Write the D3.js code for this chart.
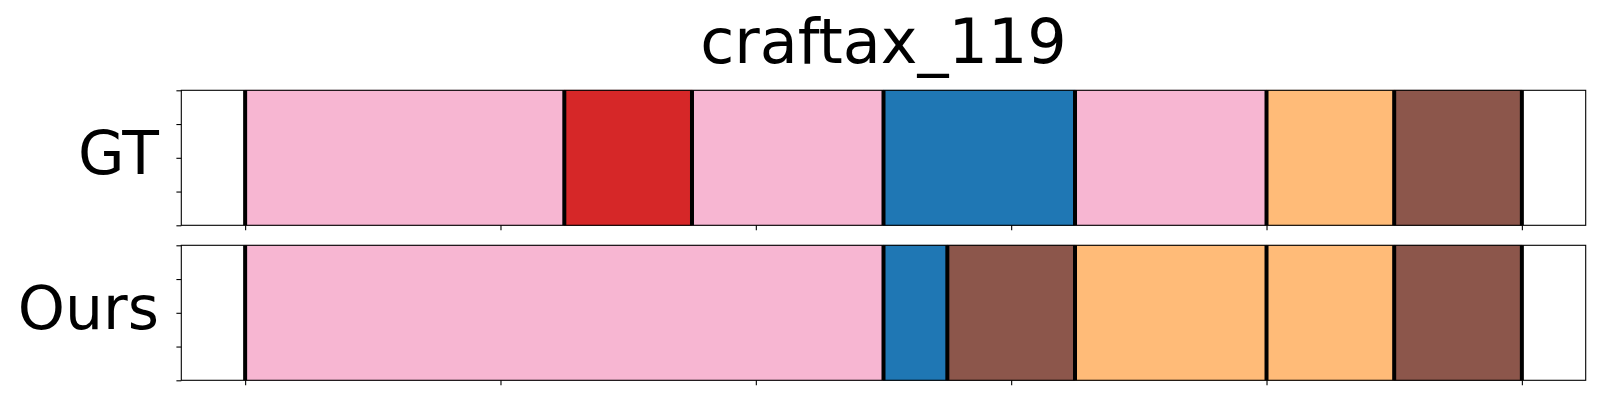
<!DOCTYPE html>
<html><head><meta charset="utf-8">
<script src="https://cdn.jsdelivr.net/npm/d3@7"></script>
<style>body{margin:0;background:#fff}svg{display:block}</style>
</head><body>
<script>
const title = "craftax_119";
const rowLabels = ["GT", "Ours"];
// segments: [start, end, color]
const gtStarts = [0, 0.25, 0.35, 0.5, 0.65, 0.8, 0.9];
const gtEnds   = [0.25, 0.35, 0.5, 0.65, 0.8, 0.9, 1.0];
const gtColors = ["#f7b6d2", "#d62728", "#f7b6d2", "#1f77b4", "#f7b6d2", "#ffbb78", "#8c564b"];
const oursStarts = [0, 0.5, 0.55, 0.65, 0.8, 0.9];
const oursEnds   = [0.5, 0.55, 0.65, 0.8, 0.9, 1.0];
const oursColors = ["#f7b6d2", "#1f77b4", "#8c564b", "#ffbb78", "#ffbb78", "#8c564b"];
const xTicks = [0, 0.2, 0.4, 0.6, 0.8, 1.0];
const yTicks = [0, 0.25, 0.5, 0.75, 1.0];

const W = 1600, H = 400;
const svg = d3.select("body").append("svg").attr("width", W).attr("height", H);
const x = d3.scaleLinear().domain([-0.05, 1.05]).range([181.3, 1585.7]);
const panels = [
  {label: rowLabels[0], starts: gtStarts, ends: gtEnds, colors: gtColors, top: 90.3, bottom: 225.3},
  {label: rowLabels[1], starts: oursStarts, ends: oursEnds, colors: oursColors, top: 245.3, bottom: 380.3}
];
const font = "DejaVu Sans, sans-serif";

svg.append("text").attr("x", 883.5).attr("y", 63).attr("text-anchor", "middle")
  .attr("font-family", font).attr("font-size", 62).text(title);

panels.forEach(p => {
  const y = d3.scaleLinear().domain([0, 1]).range([p.bottom, p.top]);
  const g = svg.append("g");
  const segs = p.starts.map((s, i) => ({s, e: p.ends[i], c: p.colors[i]}));
  g.selectAll("rect.seg").data(segs).enter().append("rect")
    .attr("x", d => x(d.s)).attr("width", d => x(d.e) - x(d.s))
    .attr("y", y(1)).attr("height", y(0) - y(1))
    .attr("fill", d => d.c)
    .attr("stroke", d => d3.color(d.c).darker(0.3)).attr("stroke-width", 0.8);
  // boundary lines
  const bounds = Array.from(new Set(p.starts.concat(p.ends)));
  g.selectAll("line.b").data(bounds).enter().append("line")
    .attr("x1", d => x(d)).attr("x2", d => x(d))
    .attr("y1", y(1)).attr("y2", y(0))
    .attr("stroke", "#000").attr("stroke-width", 4);
  // axes
  const xa = d3.axisBottom(x).tickValues(xTicks).tickSize(4.9).tickFormat("");
  const ya = d3.axisLeft(y).tickValues(yTicks).tickSize(4.9).tickFormat("");
  const gx = g.append("g").attr("transform", `translate(0,${p.bottom})`).call(xa);
  const gy = g.append("g").attr("transform", `translate(${x.range()[0]},0)`).call(ya);
  [gx, gy].forEach(a => {
    a.select(".domain").remove();
    a.selectAll("line").attr("stroke", "#000").attr("stroke-width", 1.1);
  });
  g.append("rect").attr("x", x.range()[0]).attr("y", p.top)
    .attr("width", x.range()[1] - x.range()[0]).attr("height", p.bottom - p.top)
    .attr("fill", "none").attr("stroke", "#000").attr("stroke-width", 1.1);
  g.append("text").attr("x", 159).attr("y", (p.top + p.bottom) / 2 + 16.5)
    .attr("text-anchor", "end").attr("font-family", font).attr("font-size", 60)
    .text(p.label);
});
</script>
</body></html>
